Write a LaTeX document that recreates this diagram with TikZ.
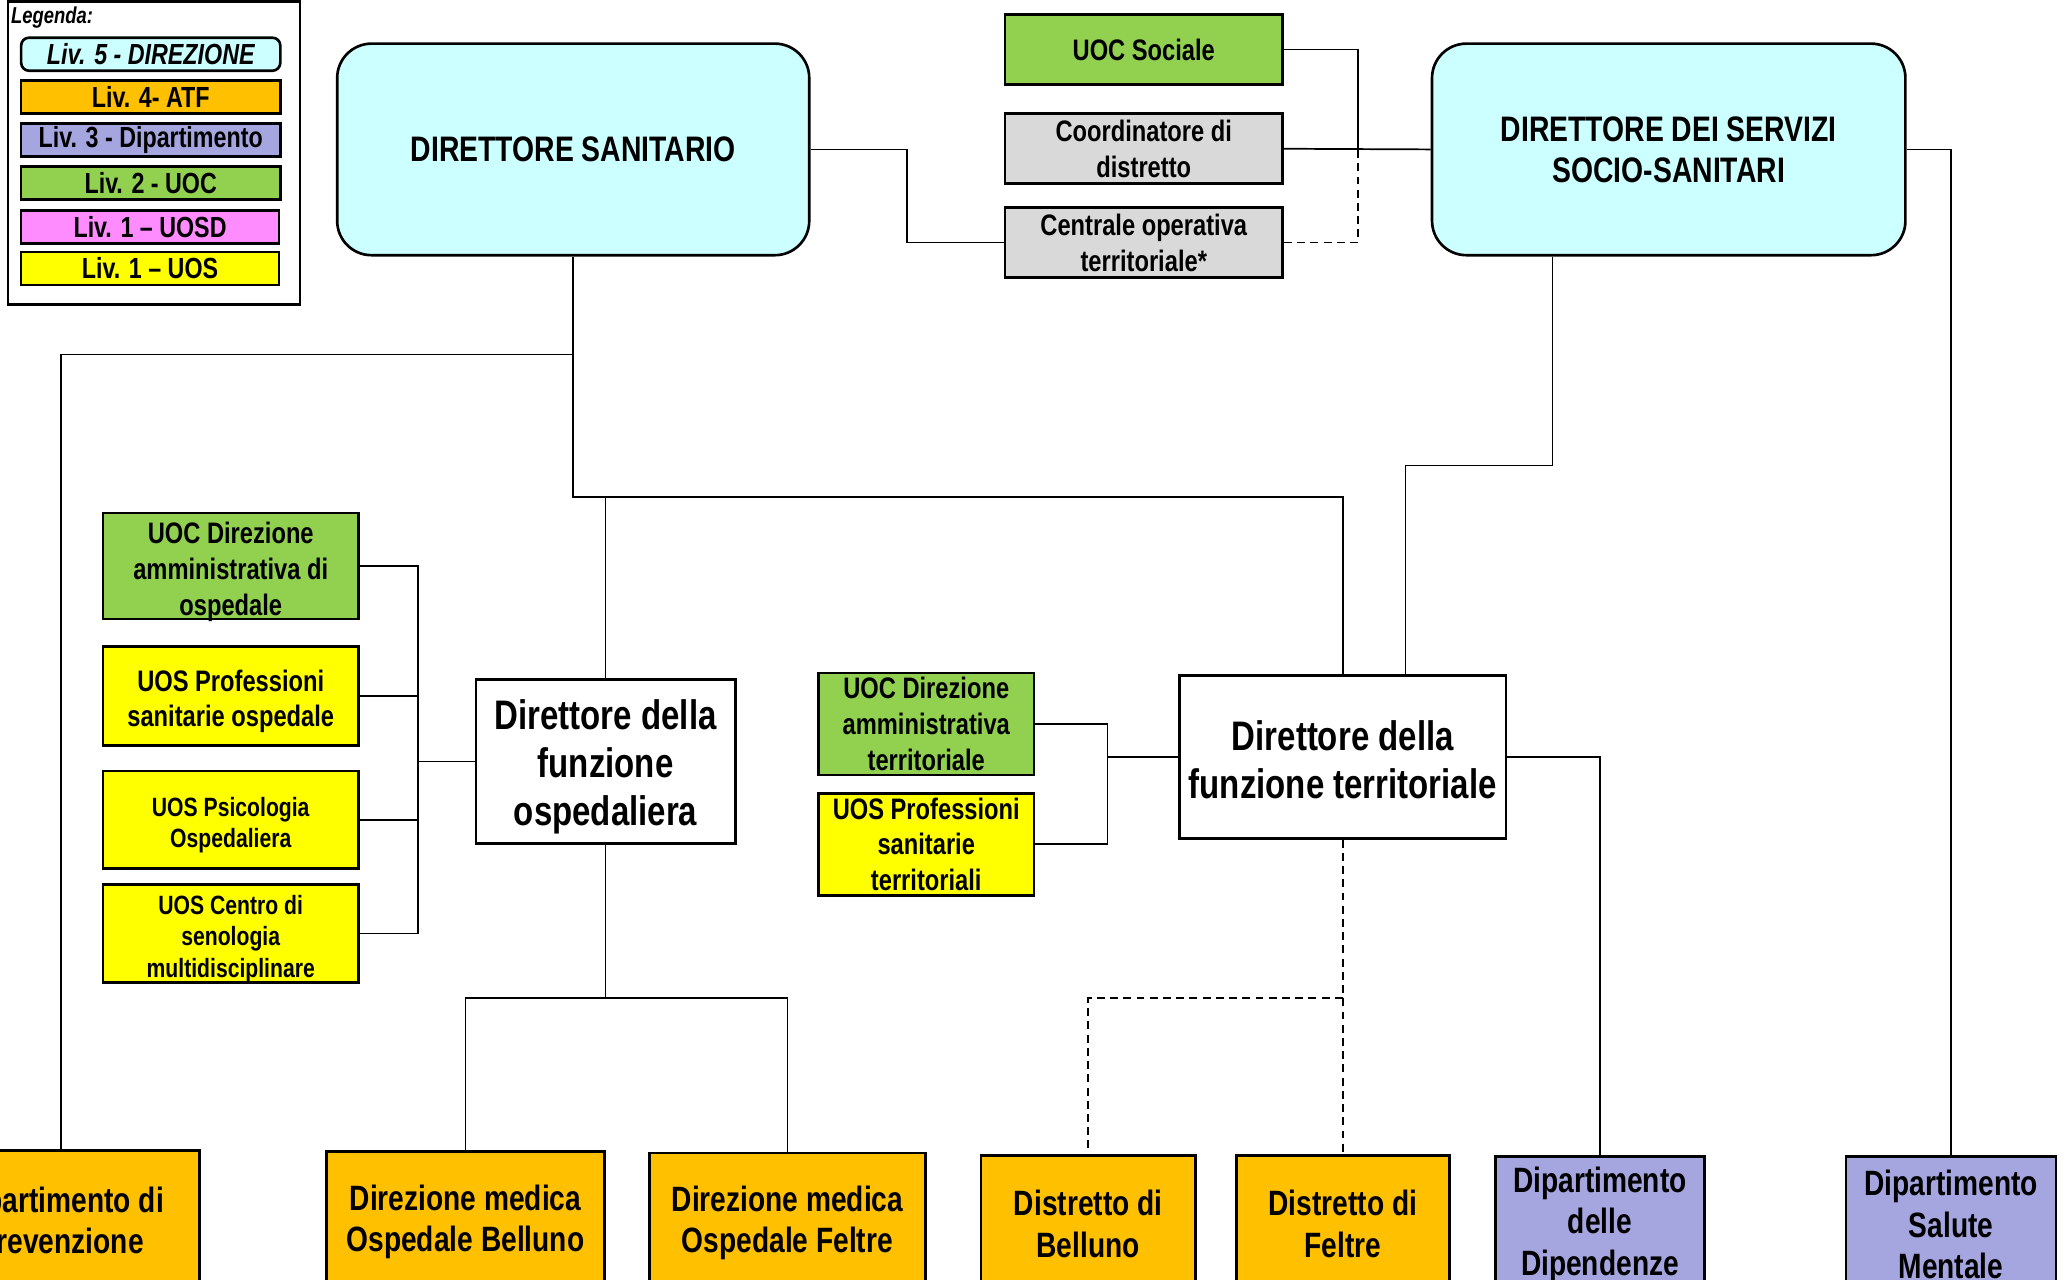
\documentclass[tikz,border=0pt]{standalone}
\usepackage{fontspec}
\setmainfont{Liberation Sans}[FakeStretch=0.8]
\definecolor{cyanl}{HTML}{CCFFFF}
\definecolor{orangeatf}{HTML}{FFC000}
\definecolor{lavdip}{HTML}{A5A5E0}
\definecolor{greenuoc}{HTML}{92D050}
\definecolor{pinkuosd}{HTML}{FF8CFF}
\definecolor{yellowuos}{HTML}{FFFF00}
\definecolor{greyc}{HTML}{D9D9D9}
\newcommand\fntTitle{\fontsize{13.4}{15.5}\selectfont\bfseries}
\newcommand\fntFun{\fontsize{15.6}{18.3}\selectfont\bfseries}
\newcommand\fntMid{\fontsize{11.2}{13.5}\selectfont\bfseries}
\newcommand\fntSmall{\fontsize{10}{11.9}\selectfont\bfseries}
\newcommand\fntBot{\fontsize{13.3}{15.7}\selectfont\bfseries}
\newcommand\fntLeg{\fontsize{11}{13}\selectfont\bfseries}
\begin{document}
\begin{tikzpicture}[x=0.5pt,y=-0.5pt,
  obox/.style={draw=black,line width=1pt,inner sep=0pt,align=center,text=black},
  txt/.style={inner sep=0pt,align=center,text=black},
  lnk/.style={draw=black,line width=0.65pt},
  dlnk/.style={lnk,dash pattern=on 3pt off 2pt}]
\useasboundingbox (0,0) rectangle (1567,968);
\clip (0,0) rectangle (1567,968);
% Legend
\node[draw=black,line width=0.9pt,minimum width=110.5pt,minimum height=114.5pt,inner sep=0pt] (LEG) at (116.5,115.75) {};
\node[anchor=west,inner sep=0pt,font=\fontsize{8.7}{10}\selectfont\bfseries\itshape] (LEGT) at (8,13) {Legenda:};
\node[obox,fill=cyanl,rounded corners=3pt,minimum width=98pt,minimum height=12.5pt,font=\fntLeg\itshape] (L5) at (114,41) {Liv. 5 - DIREZIONE};
\node[obox,fill=orangeatf,minimum width=98pt,minimum height=12.5pt,font=\fntLeg] (L4) at (114,73.5) {Liv. 4- ATF};
\node[obox,fill=lavdip,minimum width=98pt,minimum height=12.5pt,font=\fntLeg] (L3) at (114,106) {Liv. 3 - Dipartimento};
\node[obox,fill=greenuoc,minimum width=98pt,minimum height=12.5pt,font=\fntLeg] (L2) at (114,138.5) {Liv. 2 - UOC};
\node[obox,fill=pinkuosd,minimum width=97.5pt,minimum height=12.5pt,font=\fntLeg] (L1a) at (113.5,171.5) {Liv. 1 -- UOSD};
\node[obox,fill=yellowuos,minimum width=97.5pt,minimum height=12.5pt,font=\fntLeg] (L1b) at (113.5,203) {Liv. 1 -- UOS};
% Top level
\node[obox,fill=cyanl,rounded corners=13pt,minimum width=178.5pt,minimum height=80pt,font=\fntTitle] (DS) at (433.5,113) {DIRETTORE SANITARIO};
\node[obox,fill=cyanl,rounded corners=13pt,minimum width=179pt,minimum height=80pt,font=\fntTitle] (DSS) at (1262,113) {DIRETTORE DEI SERVIZI\\SOCIO-SANITARI};
\node[obox,fill=greenuoc,minimum width=105pt,minimum height=26.5pt,font=\fntMid] (UOCS) at (865,37.5) {UOC Sociale};
\node[obox,fill=greyc,minimum width=105pt,minimum height=26.5pt,font=\fntMid] (COORD) at (865,112.5) {Coordinatore di\\distretto};
\node[obox,fill=greyc,minimum width=105pt,minimum height=26.5pt,font=\fntMid] (COT) at (865,183.5) {Centrale operativa\\territoriale*};
% Function directors
\node[obox,fill=white,minimum width=98pt,minimum height=62pt] (DFO) at (458,576) {};
\node[txt,font=\fntFun] (DFOt) at ([yshift=-2pt]DFO.center) {Direttore della\\funzione\\ospedaliera};
\node[obox,fill=white,minimum width=123.5pt,minimum height=61.5pt] (DFT) at (1015.5,572.5) {};
\node[txt,font=\fntFun] (DFTt) at ([yshift=-1pt]DFT.center) {Direttore della\\funzione territoriale};
% Left units
\node[obox,fill=greenuoc,minimum width=96.5pt,minimum height=40pt] (UOCO) at (174.5,428) {};
\node[txt,font=\fntMid] (UOCOt) at ([yshift=-2.2pt]UOCO.center) {UOC Direzione\\amministrativa di\\ospedale};
\node[obox,fill=yellowuos,minimum width=96.5pt,minimum height=37.5pt] (UOSP) at (174.5,526.5) {};
\node[txt,font=\fntMid] (UOSPt) at ([yshift=-2pt]UOSP.center) {UOS Professioni\\sanitarie ospedale};
\node[obox,fill=yellowuos,minimum width=96.5pt,minimum height=37pt] (UOSPS) at (174.5,620) {};
\node[txt,font=\fntSmall] (UOSPSt) at ([yshift=-2pt]UOSPS.center) {UOS Psicologia\\Ospedaliera};
\node[obox,fill=yellowuos,minimum width=96.5pt,minimum height=37pt] (UOSS) at (174.5,706) {};
\node[txt,font=\fntSmall] (UOSSt) at ([yshift=-2pt]UOSS.center) {UOS Centro di\\senologia\\multidisciplinare};
% Territorial units
\node[obox,fill=greenuoc,minimum width=81.5pt,minimum height=38.5pt,font=\fntMid] (UOCT) at (700.5,547.5) {UOC Direzione\\amministrativa\\territoriale};
\node[obox,fill=yellowuos,minimum width=81.5pt,minimum height=38.5pt,font=\fntMid] (UOST) at (700.5,638.5) {UOS Professioni\\sanitarie\\territoriali};
% Bottom boxes
\node[obox,fill=orangeatf,minimum width=105pt,minimum height=53pt,font=\fntBot] (PREV) at (46,923) {Dipartimento di\\Prevenzione};
\node[obox,fill=orangeatf,minimum width=105pt,minimum height=53pt,font=\fntBot] (DMB) at (352,924) {Direzione medica\\Ospedale Belluno};
\node[obox,fill=orangeatf,minimum width=104.5pt,minimum height=53pt,font=\fntBot] (DMF) at (595.5,925) {Direzione medica\\Ospedale Feltre};
\node[obox,fill=orangeatf,minimum width=81pt,minimum height=51.5pt,font=\fntBot] (DB) at (823,925.5) {Distretto di\\Belluno};
\node[obox,fill=orangeatf,minimum width=80.5pt,minimum height=51.5pt,font=\fntBot] (DF) at (1015.5,925.5) {Distretto di\\Feltre};
\node[obox,fill=lavdip,minimum width=79pt,minimum height=51.5pt,font=\fntBot] (DD) at (1210,926) {Dipartimento\\delle\\Dipendenze};
\node[obox,fill=lavdip,minimum width=79.5pt,minimum height=51.5pt,font=\fntBot] (DSM) at (1475.5,926) {Dipartimento\\Salute\\Mentale};
% Junction coordinates
\coordinate (jS) at (1027,112.5);
\coordinate (jDS1) at (433.5,268);
\coordinate (jDS2) at (433.5,376);
\coordinate (jDFO) at (458,376);
\coordinate (jDSS) at (1174,352);
\coordinate (busL) at (316,576);
\coordinate (busT) at (837.5,572.5);
\coordinate (jO) at (458,755);
\coordinate (jT) at (1015.5,755);
% Top connectors
\draw[lnk] (DS.east) -- ++(73,0) |- (COT.west);
\draw[lnk] (UOCS.east) -| (jS);
\draw[lnk] (COORD.east) -- (DSS.west);
\draw[dlnk] (COT.east) -| (jS);
\draw[lnk] (DSS.east) -| (DSM.north);
\draw[lnk] ([xshift=-44pt]DSS.south) |- (jDSS) -| ([xshift=23.75pt]DFT.north);
\draw[lnk] (DS.south) -- (jDS1) -| (PREV.north);
\draw[lnk] (jDS1) -- (jDS2) -| (DFT.north);
\draw[lnk] (jDFO) -- (DFO.north);
% Hospital function bus
\draw[lnk] (DFO.west) -- (busL);
\draw[lnk] (UOCO.east) -- (UOCO.east -| busL) -- (UOSS.east -| busL) -- (UOSS.east);
\draw[lnk] (UOSP.east) -- (UOSP.east -| busL);
\draw[lnk] (UOSPS.east) -- (UOSPS.east -| busL);
% Territorial function bus
\draw[lnk] (DFT.west) -- (busT);
\draw[lnk] (UOCT.east) -- (UOCT.east -| busT) -- (UOST.east -| busT) -- (UOST.east);
\draw[lnk] (DFT.east) -| (DD.north);
% Bottom connectors
\draw[lnk] (DFO.south) -- (jO) -| (DMB.north);
\draw[lnk] (jO) -| (DMF.north);
\draw[dlnk] (DFT.south) -- (jT) -| (DB.north);
\draw[dlnk] (jT) -- (DF.north);
\end{tikzpicture}
\end{document}
